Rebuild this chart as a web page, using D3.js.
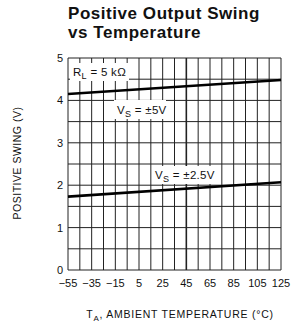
<!DOCTYPE html>
<html>
<head>
<meta charset="utf-8">
<script src="https://cdn.jsdelivr.net/npm/d3@7"></script>
<style>
  body { margin: 0; background: #fff; }
  svg { display: block; }
  text { font-family: "Liberation Sans", Arial, sans-serif; fill: #111; }
</style>
</head>
<body>
<div id="chart"></div>
<script>
// data
const temps = [-55, 125];
const swing5 = [4.15, 4.48];
const swing25 = [1.73, 2.07];
const xTicks = [-55, -35, -15, 5, 25, 45, 65, 85, 105, 125];
const yTicks = [0, 1, 2, 3, 4, 5];
const xGrid = d3.range(-55, 126, 10);
const yGrid = d3.range(0, 5.01, 0.5);

const width = 293, height = 324;
const margin = { left: 68, top: 58, right: 12, bottom: 54 };

const svg = d3.select('#chart').append('svg')
    .attr('width', width)
    .attr('height', height);

const x = d3.scaleLinear().domain([-55, 125]).range([margin.left, width - margin.right]);
const y = d3.scaleLinear().domain([0, 5]).range([height - margin.bottom, margin.top]);

// title
svg.append('text').attr('x', 68).attr('y', 18.5)
    .style('font-size', '17px').style('font-weight', 'bold').style('letter-spacing', '0.55px')
    .text('Positive Output Swing');
svg.append('text').attr('x', 68).attr('y', 37.5)
    .style('font-size', '17px').style('font-weight', 'bold').style('letter-spacing', '0.55px')
    .text('vs Temperature');

// grid
const grid = svg.append('g');
grid.selectAll('line.v').data(xGrid).enter().append('line')
    .attr('class', 'v')
    .attr('x1', d => x(d)).attr('x2', d => x(d))
    .attr('y1', y(0)).attr('y2', y(5))
    .attr('stroke', '#222')
    .attr('stroke-width', d => d === 45 ? 1.6 : 1);
grid.selectAll('line.h').data(yGrid).enter().append('line')
    .attr('class', 'h')
    .attr('x1', x(-55)).attr('x2', x(125))
    .attr('y1', d => y(d)).attr('y2', d => y(d))
    .attr('stroke', '#222')
    .attr('stroke-width', 1);

// label boxes (hide the grid behind the text)
function label(cx, cy, w, h, main, sub, rest) {
    svg.append('rect')
        .attr('x', cx).attr('y', cy).attr('width', w).attr('height', h)
        .attr('fill', '#fff');
    const t = svg.append('text')
        .attr('x', cx + 3).attr('y', cy + h - 5)
        .style('font-size', '11.5px')
        .style('letter-spacing', '0.3px');
    t.append('tspan').text(main);
    t.append('tspan').attr('dy', 3).style('font-size', '9px').text(sub);
    t.append('tspan').attr('dy', -3).text(rest);
}
label(70, 63, 59, 18, 'R', 'L', ' = 5 k\u03A9');
label(114, 100, 52, 19, 'V', 'S', ' = \u00B15V');
label(152, 166, 66, 18, 'V', 'S', ' = \u00B12.5V');

// curves
const line = d3.line().x((d, i) => x(temps[i])).y(d => y(d));
[swing5, swing25].forEach(s => {
    svg.append('path').datum(s)
        .attr('d', line)
        .attr('fill', 'none')
        .attr('stroke', '#000')
        .attr('stroke-width', 2.6);
});

// tick labels
svg.append('g').selectAll('text').data(yTicks).enter().append('text')
    .attr('x', 63).attr('y', d => y(d) + 4)
    .attr('text-anchor', 'end')
    .style('font-size', '11px')
    .text(d => d);
svg.append('g').selectAll('text').data(xTicks).enter().append('text')
    .attr('x', d => x(d)).attr('y', 287)
    .attr('text-anchor', 'middle')
    .style('font-size', '11px')
    .text(d => d < 0 ? '\u2212' + (-d) : d);

// axis titles
const xt = svg.append('text')
    .attr('x', 180).attr('y', 318)
    .attr('text-anchor', 'middle')
    .style('font-size', '10.5px')
    .style('letter-spacing', '0.75px');
xt.append('tspan').text('T');
xt.append('tspan').attr('dy', 3).style('font-size', '8px').text('A');
xt.append('tspan').attr('dy', -3).text(', AMBIENT TEMPERATURE (\u00B0C)');

svg.append('text')
    .attr('transform', 'translate(21,163) rotate(-90)')
    .attr('text-anchor', 'middle')
    .style('font-size', '10.5px')
    .style('letter-spacing', '0.5px')
    .text('POSITIVE SWING (V)');
</script>
</body>
</html>
